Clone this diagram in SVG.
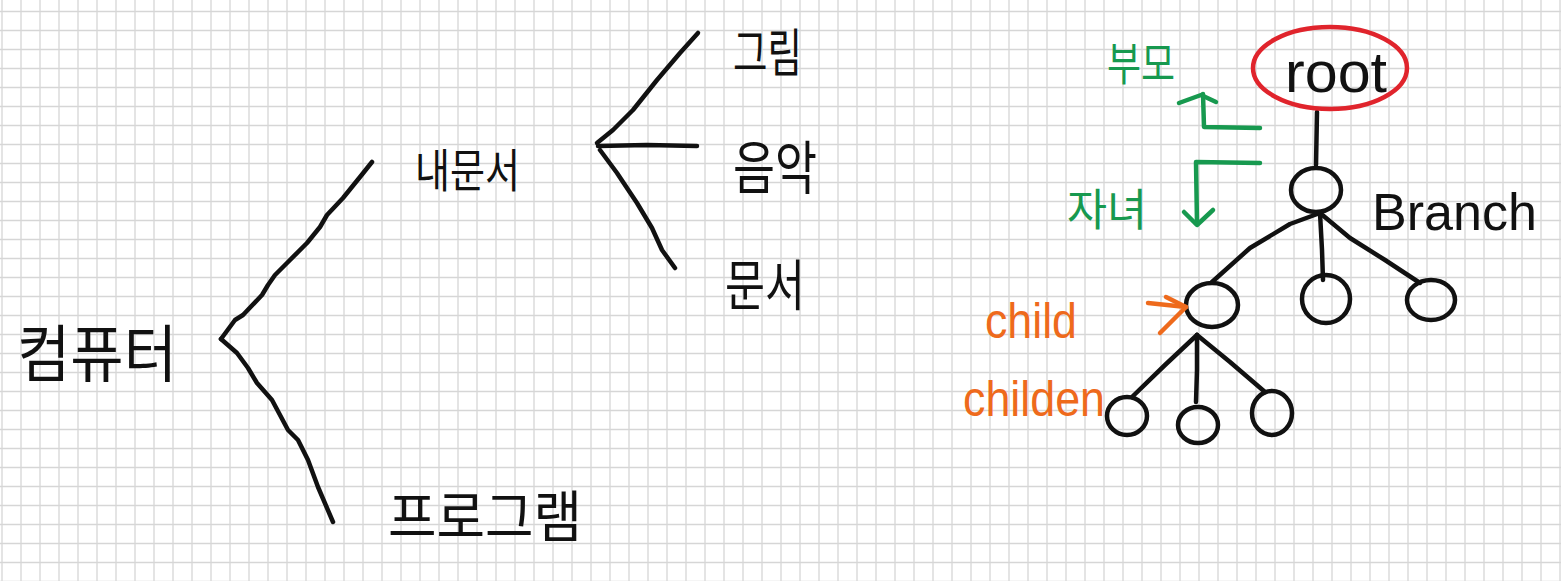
<svg xmlns="http://www.w3.org/2000/svg" width="1561" height="581" viewBox="0 0 1561 581">
  <defs>
    <pattern id="grid" width="19" height="19" patternUnits="userSpaceOnUse">
      <path d="M2 0V19M0 11.5H19" stroke="#d6d6d6" stroke-width="1.3" fill="none"/>
    </pattern>
  </defs>
  <style>
    .ko { font-family: "Noto Sans CJK KR", "Noto Sans", sans-serif; fill: #111; dominant-baseline: central; }
    .en { font-family: "Liberation Sans", Arial, sans-serif; fill: #111; }
    .ink { fill: none; stroke: #111; stroke-width: 4.5; stroke-linecap: round; stroke-linejoin: round; }
    .node { fill: none; stroke: #111; stroke-width: 4.5; }
    .green { fill: none; stroke: #17994f; stroke-width: 4.5; stroke-linecap: round; stroke-linejoin: round; }
    .gtext { fill: #17994f; }
    .orange { fill: none; stroke: #ee6a1c; stroke-width: 4.5; stroke-linecap: round; stroke-linejoin: round; }
    .otext { fill: #ee6a1c; }
  </style>
  <rect width="1561" height="581" fill="#ffffff"/>
  <rect width="1561" height="581" fill="url(#grid)"/>

  <g id="connectors">
    <path class="ink" d="M372,162 L360,177 L343,198 L327,215 L320,227 L307,243 L287,263 L275,275 L268,285 L262,295 L243,315 L235,320 L221,339"/>
    <path class="ink" d="M221,339 L237,353 L248,368 L257,383 L272,400 L280,415 L288,430 L298,440 L308,460 L318,487 L333,522"/>
    <path class="ink" d="M698,33 L680,53 L657,80 L633,110 L613,130 L597,143"/>
    <path class="ink" d="M598,146 L647,145 L697,146"/>
    <path class="ink" d="M600,150 L617,173 L637,203 L652,228 L662,250 L675,268"/>
    <path class="ink" d="M1317,112 L1316,165"/>
    <path class="ink" d="M1320,213 L1290,224 L1250,248 L1212,282"/>
    <path class="ink" d="M1320,213 L1322,250 L1323,280"/>
    <path class="ink" d="M1320,213 L1350,238 L1385,260 L1420,283"/>
    <path class="ink" d="M1197,335 L1165,365 L1132,397"/>
    <path class="ink" d="M1197,335 L1197,370 L1196,402"/>
    <path class="ink" d="M1197,335 L1230,362 L1265,392"/>
  </g>

  <g id="n-computer"><text class="ko" x="17" y="350" font-size="62" textLength="160" lengthAdjust="spacingAndGlyphs">컴퓨터</text></g>
  <g id="n-mydocs"><text class="ko" x="415" y="167" font-size="46" textLength="105" lengthAdjust="spacingAndGlyphs">내문서</text></g>
  <g id="n-program"><text class="ko" x="388" y="512" font-size="56" textLength="194" lengthAdjust="spacingAndGlyphs">프로그램</text></g>
  <g id="n-picture"><text class="ko" x="733" y="49" font-size="52" textLength="69" lengthAdjust="spacingAndGlyphs">그림</text></g>
  <g id="n-music"><text class="ko" x="733" y="164" font-size="58" textLength="84" lengthAdjust="spacingAndGlyphs">음악</text></g>
  <g id="n-document"><text class="ko" x="725" y="281" font-size="55" textLength="80" lengthAdjust="spacingAndGlyphs">문서</text></g>

  <g id="n-root">
    <ellipse cx="1330" cy="68" rx="77" ry="41" fill="none" stroke="#e0242c" stroke-width="4.5"/>
    <text class="en" x="1285" y="92" font-size="58" textLength="102" lengthAdjust="spacingAndGlyphs">root</text>
  </g>
  <g id="n-branch">
    <ellipse class="node" cx="1316" cy="190" rx="25" ry="22"/>
    <text class="en" x="1372" y="230" font-size="52" textLength="165" lengthAdjust="spacingAndGlyphs">Branch</text>
  </g>
  <g id="n-child-left">
    <ellipse class="node" cx="1212" cy="305" rx="26" ry="22"/>
  </g>
  <g id="n-child-mid">
    <ellipse class="node" cx="1326" cy="299" rx="24" ry="24"/>
  </g>
  <g id="n-child-right">
    <ellipse class="node" cx="1431" cy="300" rx="24" ry="20"/>
  </g>
  <g id="n-gc-left"><ellipse class="node" cx="1127" cy="416" rx="20" ry="19"/></g>
  <g id="n-gc-mid"><ellipse class="node" cx="1198" cy="425" rx="20" ry="18"/></g>
  <g id="n-gc-right"><ellipse class="node" cx="1272" cy="413" rx="20" ry="22"/></g>

  <g id="n-parent-label">
    <text class="ko gtext" x="1107" y="60" font-size="46" textLength="68" lengthAdjust="spacingAndGlyphs">부모</text>
    <path class="green" d="M1260,128 L1204,127 L1203,94"/>
    <path class="green" d="M1179,103 L1201,95 L1216,102"/>
  </g>
  <g id="n-children-label">
    <text class="ko gtext" x="1067" y="207" font-size="44" textLength="80" lengthAdjust="spacingAndGlyphs">자녀</text>
    <path class="green" d="M1260,163 L1196,162 L1197,224"/>
    <path class="green" d="M1184,212 L1197,225 L1213,210"/>
  </g>
  <g id="n-child-label">
    <text class="en otext" x="985" y="338" font-size="50" textLength="92" lengthAdjust="spacingAndGlyphs">child</text>
    <path class="orange" d="M1148,303 L1186,307"/>
    <path class="orange" d="M1166,297 L1186,307 L1160,333"/>
  </g>
  <g id="n-childen-label">
    <text class="en otext" x="963" y="416" font-size="50" textLength="142" lengthAdjust="spacingAndGlyphs">childen</text>
  </g>
</svg>
